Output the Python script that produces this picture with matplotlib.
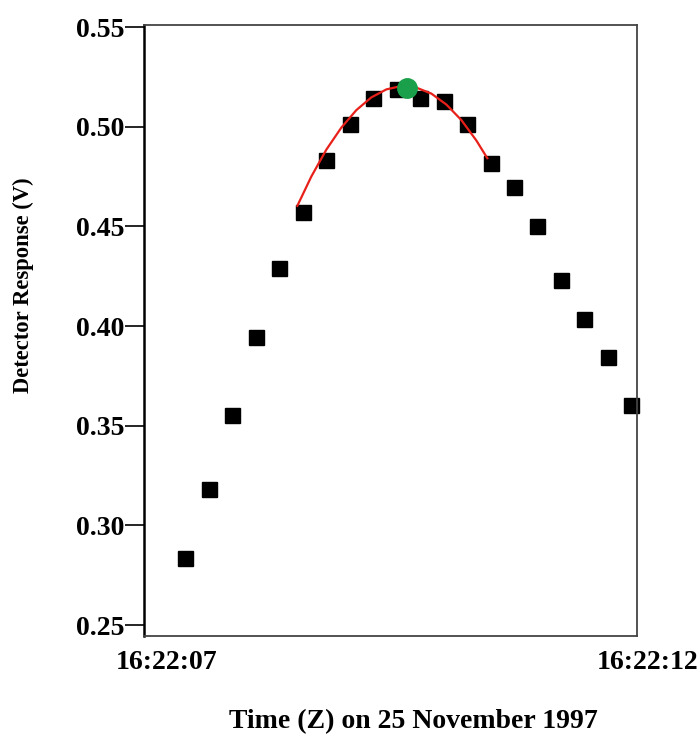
import numpy as np
import matplotlib
matplotlib.use("Agg")
import matplotlib.pyplot as plt
import matplotlib.transforms as mtransforms

# seconds after 16:22:07, one sample every 0.25 s
times = [0.2, 0.45, 0.7, 0.95, 1.2, 1.45, 1.7, 1.95, 2.2, 2.45,
         2.7, 2.95, 3.2, 3.45, 3.7, 3.95, 4.2, 4.45, 4.7, 4.95]
response = [0.2836, 0.3182, 0.3554, 0.3945, 0.4291, 0.4572, 0.4833, 0.5013, 0.5144, 0.5189,
            0.5144, 0.5129, 0.5013, 0.4818, 0.4697, 0.4502, 0.4231, 0.4035, 0.3846, 0.3604]

# fitted curve around the peak
fit_t = [1.393, 1.542, 1.702, 1.861, 2.021, 2.181, 2.341, 2.500,
         2.660, 2.820, 2.980, 3.140, 3.299, 3.416]
fit_v = [0.4603, 0.4750, 0.4885, 0.4995, 0.5083, 0.5147, 0.5187, 0.5204,
         0.5196, 0.5166, 0.5111, 0.5033, 0.4931, 0.4842]

peak_t = 2.564
peak_v = 0.5194

tick_labels = ["16:22:07", "16:22:12"]
tick_pos = [0.0, 5.12]
yticks = [0.25, 0.30, 0.35, 0.40, 0.45, 0.50, 0.55]

plt.rcParams['font.family'] = ['Liberation Serif', 'DejaVu Serif']
plt.rcParams['font.weight'] = 'bold'

fig = plt.figure(figsize=(7, 7.4), dpi=100)
ax = fig.add_axes([0.2057, 0.1405, 0.7043, 0.8257])

ax.plot(times, response, linestyle='none', marker='s', markersize=10.8,
        color='black', zorder=2, clip_on=False)
ax.plot(fit_t, fit_v, color='#e8201a', linewidth=1.6, zorder=3)
ax.plot([peak_t], [peak_v], marker='o', markersize=14, color='#1aa04a',
        linestyle='none', zorder=4)

ax.set_yticks(yticks)
ax.set_yticklabels([f"{v:.2f}" for v in yticks])
ax.tick_params(axis='y', direction='out', length=13.5, width=1.2, pad=0.5,
               labelsize=20, color='black')

ax.set_xticks([])
trans = mtransforms.blended_transform_factory(ax.transData, ax.transAxes)
for pos, lbl in zip(tick_pos, tick_labels):
    ax.text(pos, -0.044, lbl, transform=trans, ha='center', va='center',
            fontsize=20, fontweight='bold', clip_on=False)

ax.set_xlim(-0.24, 5.01)
ax.set_ylim(0.2445, 0.551)

for s in ['top', 'right', 'bottom']:
    ax.spines[s].set_color('#444444')
    ax.spines[s].set_linewidth(1.3)
ax.spines['left'].set_color('black')
ax.spines['left'].set_linewidth(1.8)

fig.text(413 / 700, 1 - 722 / 740, "Time (Z) on 25 November 1997", ha='center',
         va='center', fontsize=20, fontweight='bold')
fig.text(23 / 700, 1 - 285 / 740, "Detector Response (V)", ha='center',
         va='center', rotation=90, fontsize=16.3, fontweight='bold')

fig.savefig("out.png", dpi=100)
